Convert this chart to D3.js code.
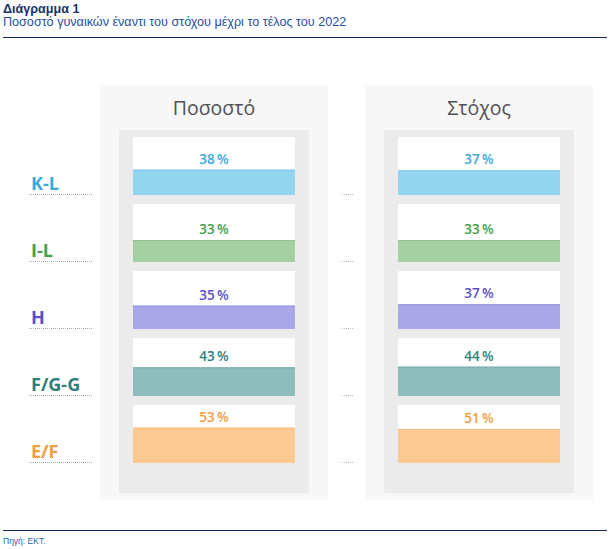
<!DOCTYPE html>
<html><head><meta charset="utf-8">
<script src="https://cdn.jsdelivr.net/npm/d3@7"></script>
<style>
html,body{margin:0;padding:0;background:#fff;}
svg{display:block;}
</style></head>
<body>
<script>
const categories = ["K-L", "I-L", "H", "F/G-G", "E/F"];
const actualValues = [38, 33, 35, 43, 53];
const targetValues = [37, 33, 37, 44, 51];
const panelTitles = ["Ποσοστό", "Στόχος"];
const labelColors = ["#3aa9dc", "#44a04a", "#5b50c8", "#2d7f7c", "#f29d3f"];
const barColors = ["#93d4ee", "#a3cfa3", "#aaa7e8", "#8fbdbd", "#fcc992"];
const barEdge = ["#7ec9ea", "#8fc48f", "#8f8be0", "#7aabab", "#f9bd7c"];

const W = 610, H = 549;
const svg = d3.select("body").append("svg").attr("width", W).attr("height", H);

// Header
svg.append("text").attr("x", 3).attr("y", 13).attr("font-family", "Liberation Sans, Arial, sans-serif")
  .attr("font-size", 12.6).attr("font-weight", "bold").attr("fill", "#17336b").text("Διάγραμμα 1");
svg.append("text").attr("x", 3).attr("y", 26).attr("font-family", "Liberation Sans, Arial, sans-serif")
  .attr("font-size", 12.6).attr("fill", "#1f4f9e").text("Ποσοστό γυναικών έναντι του στόχου μέχρι το τέλος του 2022");
svg.append("line").attr("x1", 3).attr("x2", 607).attr("y1", 37.5).attr("y2", 37.5)
  .attr("stroke", "#0f2a66").attr("stroke-width", 1);

// Footer
svg.append("line").attr("x1", 3).attr("x2", 607).attr("y1", 530.5).attr("y2", 530.5)
  .attr("stroke", "#0f2a66").attr("stroke-width", 1);
svg.append("text").attr("x", 3).attr("y", 544).attr("font-family", "Liberation Sans, Arial, sans-serif")
  .attr("font-size", 8.5).attr("fill", "#2b5ea8").text("Πηγή: ΕΚΤ.");

// Scales
const xPanel = d3.scaleBand().domain(panelTitles).range([100, 593]).paddingInner(0.14).paddingOuter(0);
const yRow = d3.scaleBand().domain(categories).range([137, 463]).paddingInner(0.134).paddingOuter(0);
const hScale = d3.scaleLinear().domain([0, 87]).range([0, yRow.bandwidth()]);

const pw = xPanel.bandwidth();
const innerOff = 19, innerW = pw - 2 * innerOff;
const boxOff = 33, boxW = pw - 2 * boxOff;

const font = "'Open Sans', sans-serif";
const series = [actualValues, targetValues];

panelTitles.forEach((title, pi) => {
  const px = xPanel(title);
  const g = svg.append("g");
  g.append("rect").attr("x", px).attr("y", 85).attr("width", pw).attr("height", 415).attr("fill", "#f7f7f7");
  g.append("rect").attr("x", px + innerOff).attr("y", 130).attr("width", innerW).attr("height", 363).attr("fill", "#ebebeb");
  g.append("text").attr("x", px + pw / 2).attr("y", 115).attr("text-anchor", "middle")
    .attr("font-family", font).attr("font-size", 19.5).attr("font-weight", 500).attr("fill", "#505050").text(title);

  const vals = series[pi];
  const rows = g.selectAll("g.row").data(categories).join("g").attr("class", "row");
  rows.append("rect").attr("x", px + boxOff).attr("y", d => yRow(d)).attr("width", boxW)
    .attr("height", yRow.bandwidth()).attr("fill", "#fff");
  rows.append("rect").attr("x", px + boxOff)
    .attr("y", (d, i) => yRow(d) + yRow.bandwidth() - hScale(vals[i]))
    .attr("width", boxW).attr("height", (d, i) => hScale(vals[i])).attr("fill", (d, i) => barColors[i]);
  rows.append("line").attr("x1", px + boxOff).attr("x2", px + boxOff + boxW)
    .attr("y1", (d, i) => yRow(d) + yRow.bandwidth() - hScale(vals[i]) + 0.5)
    .attr("y2", (d, i) => yRow(d) + yRow.bandwidth() - hScale(vals[i]) + 0.5)
    .attr("stroke", (d, i) => barEdge[i]).attr("stroke-width", 1);
  rows.append("text").attr("x", px + pw / 2)
    .attr("y", (d, i) => yRow(d) + yRow.bandwidth() - hScale(vals[i]) - 6)
    .attr("text-anchor", "middle").attr("font-family", font).attr("font-size", 13.5).attr("font-weight", 600)
    .attr("fill", (d, i) => labelColors[i]).text((d, i) => vals[i] + "\u2009%");
});

// Category labels
const labs = svg.selectAll("g.cat").data(categories).join("g").attr("class", "cat");
labs.append("text").attr("x", 31).attr("y", d => yRow(d) + yRow.bandwidth() - 5)
  .attr("font-family", font).attr("font-size", 18).attr("font-weight", "bold")
  .attr("fill", (d, i) => labelColors[i]).text(d => d);
labs.append("line").attr("x1", 29).attr("x2", 92)
  .attr("y1", d => yRow(d) + yRow.bandwidth() - 0.5).attr("y2", d => yRow(d) + yRow.bandwidth() - 0.5)
  .attr("stroke", "#aaa").attr("stroke-width", 1).attr("stroke-dasharray", "1,1");
labs.append("line").attr("x1", 342).attr("x2", 354)
  .attr("y1", d => yRow(d) + yRow.bandwidth() - 0.5).attr("y2", d => yRow(d) + yRow.bandwidth() - 0.5)
  .attr("stroke", "#bbb").attr("stroke-width", 1).attr("stroke-dasharray", "1,1");
</script>
</body></html>
